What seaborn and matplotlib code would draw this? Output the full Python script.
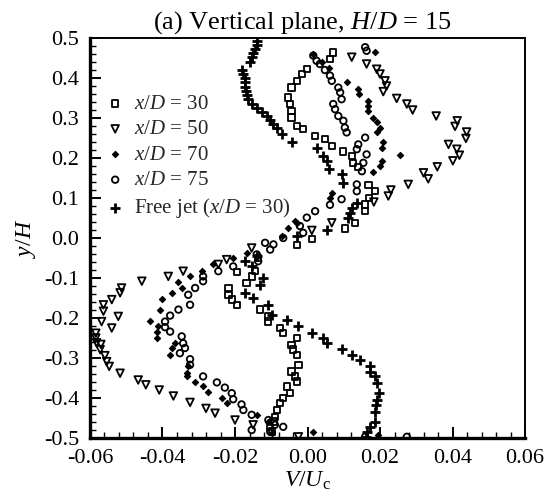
import numpy as np
import pandas as pd
import seaborn as sns
import matplotlib
matplotlib.use("Agg")
import matplotlib.pyplot as plt
from matplotlib.ticker import MultipleLocator, FormatStrFormatter

# ---- data (V/Uc, y/H) ----
xd30_v = [0.0071, 0.0062, -0.0002, -0.0016, -0.0030, -0.0044, -0.0053, -0.0048, -0.0044, -0.0044,
          -0.0030, -0.0012, 0.0021, 0.0048, 0.0067, 0.0099, 0.0122, 0.0126, 0.0140, 0.0168, 0.0186,
          0.0170, 0.0159, 0.0159, 0.0131, 0.0103, 0.0012, -0.0030, -0.0136, -0.0195, -0.0145,
          -0.0154, -0.0168, -0.0218, -0.0218, -0.0209, -0.0195, -0.0131, -0.0108, -0.0108, -0.0076,
          -0.0067, -0.0030, -0.0044, -0.0039, -0.0030, -0.0025, -0.0044, -0.0034, -0.0030, -0.0057,
          -0.0048, -0.0067, -0.0076, -0.0085, -0.0090, -0.0094, -0.0103, -0.0099]
xd30_y = [0.464, 0.447, 0.422, 0.410, 0.393, 0.376, 0.351, 0.335, 0.318, 0.301,
          0.280, 0.272, 0.255, 0.247, 0.230, 0.216, 0.205, 0.188, 0.178, 0.132, 0.117,
          0.100, 0.084, 0.067, 0.038, 0.024, -0.003, -0.018, -0.050, -0.085, -0.083,
          -0.096, -0.112, -0.125, -0.142, -0.154, -0.167, -0.179, -0.196, -0.209, -0.225,
          -0.238, -0.250, -0.267, -0.279, -0.292, -0.317, -0.334, -0.346, -0.359, -0.371,
          -0.388, -0.400, -0.413, -0.430, -0.447, -0.459, -0.472, -0.484]

xd50_v = [0.0122, 0.0163, 0.0191, 0.0200, 0.0214, 0.0218, 0.0209, 0.0246, 0.0274, 0.0290,
          0.0355, 0.0413, 0.0407, 0.0439, 0.0437, 0.0389, 0.0412, 0.0419, 0.0401, 0.0358,
          0.0320, 0.0333, 0.0278, 0.0230, 0.0223, 0.0183, 0.0067, 0.0012, -0.0154, -0.0223,
          -0.0246, -0.0343, -0.0384, -0.0457, -0.0513, -0.0517, -0.0540, -0.0563, -0.0563, -0.0522,
          -0.0568, -0.0540, -0.0584, -0.0584, -0.0572, -0.0559, -0.0554, -0.0547, -0.0517, -0.0467,
          -0.0446, -0.0409, -0.0370, -0.0324, -0.0280, -0.0255, -0.0200, -0.0150, -0.0025, -0.0582,
          -0.0570]
xd50_y = [0.452, 0.435, 0.422, 0.410, 0.393, 0.380, 0.366, 0.349, 0.335, 0.320,
          0.305, 0.293, 0.279, 0.265, 0.249, 0.234, 0.222, 0.207, 0.193, 0.178,
          0.163, 0.148, 0.134, 0.120, 0.105, 0.090, 0.038, 0.019, -0.025, -0.054,
          -0.066, -0.083, -0.096, -0.108, -0.125, -0.137, -0.154, -0.167, -0.183, -0.196,
          -0.209, -0.225, -0.238, -0.250, -0.279, -0.294, -0.309, -0.321, -0.338, -0.355,
          -0.367, -0.380, -0.395, -0.411, -0.426, -0.438, -0.455, -0.467, -0.497, -0.262,
          -0.266]

xd70_v = [0.0186, 0.0016, 0.0040, 0.0060, 0.0108, 0.0140, 0.0142, 0.0168, 0.0166, 0.0168,
          0.0182, 0.0191, 0.0200, 0.0191, 0.0209, 0.0205, 0.0255, 0.0205, 0.0200, 0.0182,
          0.0067, 0.0062, -0.0030, -0.0034, -0.0053, -0.0071, -0.0168, -0.0205, -0.0260, -0.0292,
          -0.0324, -0.0356, -0.0347, -0.0375, -0.0402, -0.0407, -0.0435, -0.0412, -0.0416, -0.0416,
          -0.0366, -0.0375, -0.0379, -0.0329, -0.0333, -0.0333, -0.0310, -0.0288, -0.0274, -0.0237,
          -0.0223, -0.0140, -0.0108, -0.0099, 0.0016, 0.0195]
xd70_y = [0.466, 0.460, 0.440, 0.425, 0.389, 0.372, 0.360, 0.343, 0.330, 0.318,
          0.301, 0.290, 0.276, 0.264, 0.239, 0.226, 0.207, 0.193, 0.180, 0.165,
          0.113, 0.100, 0.038, 0.042, 0.026, 0.005, -0.037, -0.050, -0.066, -0.083,
          -0.096, -0.111, -0.125, -0.137, -0.152, -0.179, -0.207, -0.219, -0.234, -0.250,
          -0.263, -0.275, -0.292, -0.321, -0.338, -0.346, -0.359, -0.371, -0.384, -0.400,
          -0.413, -0.442, -0.459, -0.488, -0.484, -0.492]

xd75_v = [0.0159, 0.0163, 0.0016, 0.0025, 0.0034, 0.0048, 0.0062, 0.0067, 0.0085, 0.0090,
          0.0094, 0.0071, 0.0076, 0.0085, 0.0099, 0.0103, 0.0108, 0.0159, 0.0140, 0.0136,
          0.0163, 0.0154, 0.0150, 0.0136, 0.0136, 0.0094, 0.0062, 0.0021, -0.0002, -0.0021,
          -0.0012, -0.0067, -0.0094, -0.0117, -0.0140, -0.0136, -0.0103, -0.0205, -0.0246, -0.0288,
          -0.0288, -0.0310, -0.0329, -0.0324, -0.0356, -0.0379, -0.0393, -0.0393, -0.0379, -0.0347,
          -0.0343, -0.0338, -0.0352, -0.0324, -0.0324, -0.0288, -0.0250, -0.0228, -0.0209, -0.0205,
          -0.0182, -0.0177, -0.0154, -0.0108, -0.0090, -0.0067, -0.0154, -0.0103, 0.0274, 0.0159]
xd75_y = [0.477, 0.468, 0.456, 0.443, 0.435, 0.420, 0.406, 0.393, 0.376, 0.364,
          0.347, 0.335, 0.322, 0.305, 0.293, 0.276, 0.264, 0.251, 0.234, 0.222,
          0.209, 0.188, 0.167, 0.134, 0.117, 0.097, 0.083, 0.067, 0.051, 0.030,
          0.013, 0.000, -0.016, -0.012, -0.041, -0.058, -0.029, -0.071, -0.083, -0.096,
          -0.108, -0.125, -0.142, -0.167, -0.179, -0.194, -0.209, -0.223, -0.234, -0.246,
          -0.263, -0.275, -0.288, -0.303, -0.317, -0.346, -0.361, -0.374, -0.388, -0.403,
          -0.416, -0.430, -0.442, -0.455, -0.467, -0.472, -0.480, -0.484, -0.497, -0.497]

jet_v = [-0.0140, -0.0140, -0.0145, -0.0150, -0.0154, -0.0159, -0.0182, -0.0177, -0.0172, -0.0172,
         -0.0172, -0.0170, -0.0168, -0.0163, -0.0154, -0.0140, -0.0126, -0.0113, -0.0103, -0.0094,
         -0.0085, -0.0071, -0.0044, 0.0025, 0.0044, 0.0053, 0.0060, 0.0094, 0.0099, 0.0136,
         0.0122, 0.0117, 0.0113, 0.0053, -0.0030, -0.0140, -0.0172, -0.0154, -0.0122, -0.0131,
         -0.0172, -0.0150, -0.0108, -0.0099, -0.0057, -0.0025, 0.0012, 0.0044, 0.0053, 0.0094,
         0.0122, 0.0145, 0.0172, 0.0172, 0.0186, 0.0191, 0.0198, 0.0193, 0.0189, 0.0186,
         0.0186, 0.0172, 0.0165, 0.0161]
jet_y = [0.493, 0.482, 0.472, 0.462, 0.452, 0.441, 0.421, 0.410, 0.399, 0.389,
         0.378, 0.368, 0.357, 0.347, 0.335, 0.326, 0.315, 0.305, 0.295, 0.284,
         0.274, 0.259, 0.239, 0.226, 0.205, 0.193, 0.172, 0.159, 0.138, 0.088,
         0.076, 0.063, 0.051, 0.021, 0.005, -0.046, -0.058, -0.071, -0.100, -0.117,
         -0.137, -0.150, -0.167, -0.192, -0.204, -0.221, -0.238, -0.250, -0.263, -0.278,
         -0.292, -0.305, -0.320, -0.334, -0.346, -0.363, -0.388, -0.405, -0.417, -0.434,
         -0.459, -0.472, -0.484, -0.497]

series = [
    ("$x/D$ = 30", xd30_v, xd30_y, "s", 20, "none", 1.3),
    ("$x/D$ = 50", xd50_v, xd50_y, "v", 30, "none", 1.3),
    ("$x/D$ = 70", xd70_v, xd70_y, "D", 10, "black", 0.8),
    ("$x/D$ = 75", xd75_v, xd75_y, "o", 22, "none", 1.3),
    ("Free jet ($x/D$ = 30)", jet_v, jet_y, "+", 55, "black", 2.0),
]

sns.set_theme(style="white")
plt.rcParams["font.family"] = ["Liberation Serif", "DejaVu Serif"]
plt.rcParams["mathtext.fontset"] = "custom"
plt.rcParams["mathtext.rm"] = "Liberation Serif"
plt.rcParams["mathtext.it"] = "Liberation Serif:italic"
plt.rcParams["axes.unicode_minus"] = False

fig = plt.figure(figsize=(5.48, 5.0), dpi=100)
ax = fig.add_axes([90 / 548, 62 / 500, 435 / 548, 400 / 500])

for label, v, y, mk, size, fc, lw in series:
    df = pd.DataFrame({"v": v, "y": y})
    if mk == "+":
        sns.scatterplot(data=df, x="v", y="y", marker=mk, s=size, color="black",
                        linewidth=lw, label=label, ax=ax)
    else:
        sns.scatterplot(data=df, x="v", y="y", marker=mk, s=size, color="black",
                        facecolor=fc, edgecolor="black", linewidth=lw, label=label, ax=ax)

ax.set_xlim(-0.06, 0.06)
ax.set_ylim(-0.5, 0.5)
ax.xaxis.set_major_locator(MultipleLocator(0.02))
ax.xaxis.set_minor_locator(MultipleLocator(0.004))
ax.yaxis.set_major_locator(MultipleLocator(0.1))
ax.yaxis.set_minor_locator(MultipleLocator(0.02))
ax.xaxis.set_major_formatter(FormatStrFormatter("%.2f"))
ax.yaxis.set_major_formatter(FormatStrFormatter("%.1f"))
ax.tick_params(which="both", direction="in", top=False, right=False, left=True, bottom=True,
               labelsize=16, color="black", labelcolor="black")
ax.tick_params(axis="x", which="major", length=8, width=1.4, pad=8)
ax.tick_params(axis="y", which="major", length=8, width=1.4, pad=8)
ax.tick_params(which="minor", length=4, width=1.0)
for side in ["left", "bottom"]:
    ax.spines[side].set_linewidth(2.4)
for side in ["top", "right"]:
    ax.spines[side].set_linewidth(1.4)
for sp in ax.spines.values():
    sp.set_color("black")

ax.set_xlabel("$V/U_\\mathrm{c}$", fontsize=17, labelpad=1, color="black")
ax.set_ylabel("$y/H$", fontsize=17, labelpad=4, color="black")

fig.text(302 / 548, 1 - 29 / 500, "(a) Vertical plane, $H/D$ = 15", ha="center", va="baseline",
         fontsize=19, color="black")

leg = ax.legend(loc="upper left", bbox_to_anchor=(0.01, 0.88), frameon=False, fontsize=15,
                handletextpad=0.3, labelspacing=0.28, borderaxespad=0, handlelength=1.2)

fig.savefig("out.png", dpi=100)
